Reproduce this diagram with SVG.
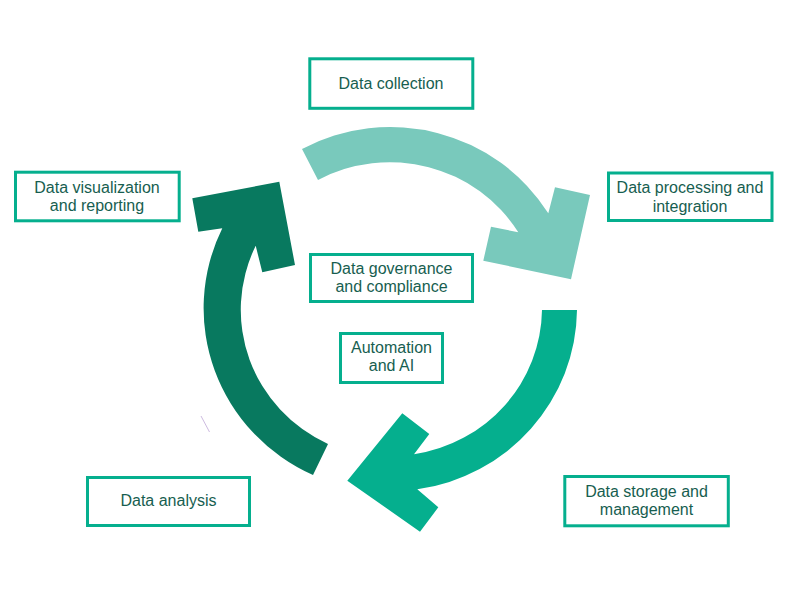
<svg xmlns="http://www.w3.org/2000/svg" width="800" height="600" viewBox="0 0 800 600">
  <style>
    .box { fill: #ffffff; stroke: #05AF8E; stroke-width: 3; }
    .lbl { font-family: "Liberation Sans", Arial, sans-serif; font-size: 16px; fill: #175E50; text-anchor: middle; }
  </style>
  <rect x="0" y="0" width="800" height="600" fill="#ffffff"/>
  <g id="connectors">
    <path id="arrow-top" fill="#79C9BC" d="M 302,149 A 186,183 0 0 1 548.3,213.3 L 555,187.3 L 590,195 L 571,279.3 L 483.3,260.7 L 491,226.7 L 518.3,232.3 A 151,148 0 0 0 318,180 Z"/>
    <path id="arrow-right" fill="#05AF8E" d="M 577,310 A 186,183 0 0 1 417.3,489.3 L 438.3,507.3 L 420,531.7 L 347.3,480.7 L 402.3,413.3 L 429.3,434 L 414,454.3 A 151,148 0 0 0 542,310 Z"/>
    <path id="arrow-left" fill="#08795F" d="M 313,475 A 186,183 0 0 1 222.3,228.3 L 198.3,231.7 L 192.3,198.3 L 279.3,181.7 L 295,265 L 262.3,272.3 L 255.7,245.7 A 151,148 0 0 0 328,444 Z"/>
    <line x1="201" y1="416" x2="209.5" y2="432" stroke="#CDBBE0" stroke-width="1"/>
  </g>
  <g id="data-collection">
    <rect class="box" x="309.8" y="58.8" width="163" height="49.5"/>
    <text class="lbl" x="391" y="89">Data collection</text>
  </g>
  <g id="data-processing">
    <rect class="box" x="608.5" y="173" width="163.5" height="47.5"/>
    <text class="lbl" x="690" y="193.3">Data processing and</text>
    <text class="lbl" x="690" y="211.5">integration</text>
  </g>
  <g id="data-storage">
    <rect class="box" x="564.8" y="476.5" width="163.5" height="49.3"/>
    <text class="lbl" x="646.5" y="496.7">Data storage and</text>
    <text class="lbl" x="646.5" y="515">management</text>
  </g>
  <g id="data-analysis">
    <rect class="box" x="87.5" y="477.5" width="162" height="48"/>
    <text class="lbl" x="168.5" y="506">Data analysis</text>
  </g>
  <g id="data-visualization">
    <rect class="box" x="15.5" y="172.2" width="163.7" height="48.6"/>
    <text class="lbl" x="97" y="192.7">Data visualization</text>
    <text class="lbl" x="97" y="210.7">and reporting</text>
  </g>
  <g id="data-governance">
    <rect class="box" x="310.5" y="254.5" width="162" height="47"/>
    <text class="lbl" x="391.5" y="274">Data governance</text>
    <text class="lbl" x="391.5" y="291.7">and compliance</text>
  </g>
  <g id="automation">
    <rect class="box" x="340.5" y="333.5" width="102" height="49"/>
    <text class="lbl" x="391.5" y="353.3">Automation</text>
    <text class="lbl" x="391.5" y="371">and AI</text>
  </g>
</svg>
